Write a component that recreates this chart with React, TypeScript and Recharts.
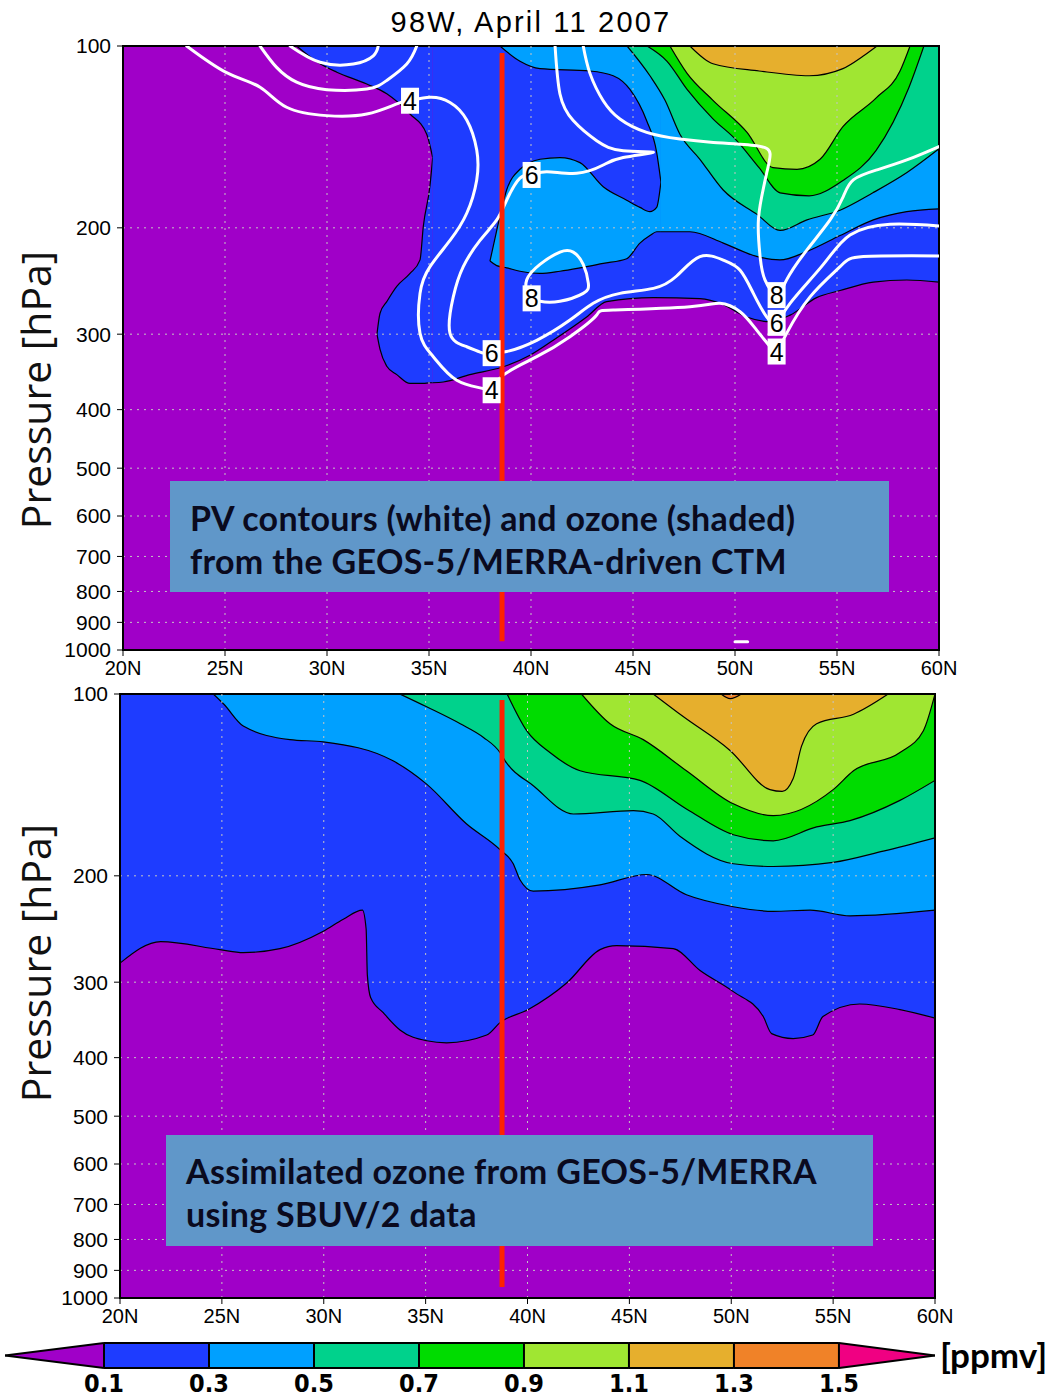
import React from 'react';
import {
  ComposedChart,
  Area,
  Line,
  Scatter,
  XAxis,
  YAxis,
  ReferenceLine,
  ReferenceArea
} from 'recharts';

// ozone shading levels (ppmv) and the palette used between them
const levels = [0.1, 0.3, 0.5, 0.7, 0.9, 1.1, 1.3, 1.5];
const palette = ['#a000c8', '#1e3cff', '#00a0ff', '#00d28c', '#00dc00', '#a0e632', '#e6af2d', '#f08228', '#f00082'];

const latTicks = [20, 25, 30, 35, 40, 45, 50, 55, 60];
const presTicks = [100, 200, 300, 400, 500, 600, 700, 800, 900, 1000];

// ---- top panel (CTM): level boundaries as [lat, hPa], shaded from 100 hPa down to the boundary
const ctmBlueCap = [[28.51, 100], [29.66, 107], [30.48, 110.5], [31.95, 115.6], [32.93, 120], [34.07, 129.6], [34.89, 140], [35.18, 153]];
// lobe west of 35N: [lat, upper hPa, lower hPa]
const ctmBlueLobe = [[32.45, 300, 300], [32.6, 277, 318], [32.93, 265, 339], [33.42, 250, 350], [34.07, 238, 362], [34.56, 226, 362], [34.72, 199, 362], [35.05, 170, 361], [35.18, 153, 361]];
const ctmBlueMain = [[35.18, 361], [35.7, 360], [37.0, 350], [38.6, 340], [39.95, 325], [41.09, 307], [42.73, 281], [43.71, 265], [46.0, 261], [48.28, 262], [49.43, 268], [50.57, 281], [51.72, 286], [52.7, 279], [54.0, 261], [55.15, 254], [56.78, 246], [58.42, 244], [60, 246]];
const ctmLightCap = [[38.48, 100], [39.46, 106], [40.44, 109], [42.89, 110], [44.03, 112], [44.85, 118], [45.67, 133], [46.16, 150], [46.37, 168]];
const ctmLightTongue = [[37.99, 227, 227], [38.32, 202, 231], [38.81, 173, 233], [39.46, 160, 236], [40.44, 154, 238], [41.42, 153, 236], [42.4, 156, 233], [43.54, 171, 229], [44.69, 180, 225], [45.34, 185, 212], [45.83, 188, 206], [46.16, 185, 203], [46.37, 168, 203]];
const ctmLightMain = [[46.37, 203], [47.79, 203], [49.43, 212], [51.06, 223], [52.2, 226], [53.51, 219], [55.15, 206], [56.78, 194], [58.42, 188], [60, 186]];
const ctmTeal = [[44.71, 100], [45.83, 112], [46.57, 123], [47.3, 140], [48.28, 154], [49.41, 173], [51.08, 190], [52.21, 202], [53.53, 194], [55.15, 187], [56.76, 175], [58.43, 162], [60, 148]];
const ctmGreen = [[45.69, 100], [46.67, 106], [47.65, 118], [48.92, 132], [50.05, 143], [51.18, 159], [52.21, 175], [53.63, 177], [55.29, 167], [56.91, 149], [58.53, 117], [59.26, 100]];
const ctmLime = [[46.81, 100], [47.65, 111], [48.92, 123], [50.59, 139], [51.86, 159], [53.04, 160], [54.17, 154], [55.29, 136], [56.91, 122], [58.09, 110], [58.58, 100]];
const ctmGold = [[47.79, 100], [48.92, 107], [51.18, 110], [53.63, 112], [55.29, 109], [56.27, 104], [56.96, 100]];

// PV contours (white), [lat, hPa] in drawing order
const pv4 = [[23.12, 100], [25.08, 110.7], [26.72, 117], [28.02, 126.3], [29.99, 130.4], [31.95, 129.6], [33.42, 124.7], [34.07, 123.2], [35.05, 121.6], [36.03, 124], [36.85, 132.6], [37.34, 148.7], [37.34, 166.6], [36.85, 189.2], [36.03, 209.8], [35.05, 231.9], [34.56, 256.8], [34.56, 299.1], [35.21, 326.9], [36.36, 357.6], [37.66, 369.1], [38.07, 371.5], [38.64, 350.7], [40.28, 326.9], [41.91, 302.9], [43.22, 278.9], [44.03, 273.6], [47.79, 270.2], [49.26, 266.7], [50.25, 275.4], [51.06, 295.4], [51.72, 314.7], [52.04, 320.5], [52.53, 299.1], [53.68, 260.2], [55.15, 231.9], [56.29, 223.2], [60, 222.6]];
const pv6 = [[41.18, 100], [41.42, 120.1], [42.07, 132.9], [43.22, 143.5], [44.52, 149.1], [46.0, 150], [44.52, 153], [43.54, 157.4], [42.24, 162.5], [40.77, 161.5], [40.03, 163.5], [39.46, 165.5], [38.81, 179.9], [38.32, 194.1], [37.5, 209.8], [36.68, 231.9], [36.19, 260.2], [36.03, 299.1], [36.85, 314.7], [37.66, 322.5], [38.07, 322.5], [38.81, 320.5], [40.28, 307.1], [41.91, 284.3], [43.05, 266.7], [44.36, 256.8], [46.0, 251.9], [47.14, 240.3], [48.28, 223.2], [49.43, 226.2], [50.25, 235.1], [50.9, 256.8], [51.55, 280.9], [52.04, 287.3], [52.7, 266.7], [54.33, 229.9], [55.64, 205.5], [57.6, 197.3], [60, 198.6]];
const pv8 = [[42.56, 100], [42.89, 111], [43.54, 123.2], [44.36, 132.1], [45.67, 139], [47.3, 142.6], [48.94, 144.4], [51.06, 146.3], [51.72, 150.9], [51.55, 162.5], [51.31, 177.5], [51.14, 196.6], [51.23, 223.2], [51.47, 243.9], [52.04, 258.5], [52.53, 243.9], [53.51, 217.9], [54.66, 194.1], [55.31, 177.5], [55.8, 166.6], [56.95, 160.4], [58.42, 154.4], [60, 146.7]];
const pv8Loop = [[39.79, 260.2], [39.79, 243.9], [40.44, 229.9], [41.42, 219.4], [42.07, 219.4], [42.56, 229.9], [42.81, 246.9], [42.56, 256.8], [41.42, 264.7], [40.44, 264.7], [39.79, 260.2]];
const pvArcA = [[26.72, 100], [27.53, 108.5], [28.51, 114.8], [29.99, 118.1], [31.95, 117.8], [32.92, 114.1], [33.91, 107.1], [34.4, 100]];
const pvArcB = [[28.19, 100], [29.66, 106.4], [31.29, 107.1], [32.27, 103.8], [32.51, 100]];
const pvSpeck = [[50.0, 969], [50.62, 969]];
const pvTags = [
  { lat: 34.07, p: 123.2, v: 4 }, { lat: 38.07, p: 371.5, v: 4 }, { lat: 40.03, p: 163.5, v: 6 },
  { lat: 38.07, p: 322.5, v: 6 }, { lat: 40.03, p: 261.7, v: 8 }, { lat: 52.04, p: 258.5, v: 8 },
  { lat: 52.04, p: 287.3, v: 6 }, { lat: 52.04, p: 320.5, v: 4 }
];

// ---- bottom panel (assimilated): [lat, hPa]
const asmBlue = [[20, 279], [22.0, 257], [24.9, 265], [26.05, 268], [27.85, 264], [29.98, 247], [30.96, 236], [31.9, 228], [32.08, 245], [32.14, 292], [32.3, 318], [32.92, 337], [33.74, 360], [35.05, 375], [36.03, 378], [38.0, 367], [38.65, 350], [40.04, 333], [41.92, 301], [43.56, 265], [44.37, 261], [47.15, 264], [48.47, 287], [50.1, 311], [51.57, 342], [51.98, 365], [53.04, 372], [54.0, 367], [54.5, 342], [56.3, 326], [58.28, 333], [60, 344]];
const asmLight = [[24.58, 100], [25.1, 104], [26.05, 113], [28.34, 119], [29.98, 120], [33.4, 129], [35.05, 141], [37.0, 164], [38.65, 181], [39.3, 191], [39.63, 203], [40.28, 212], [43.56, 207], [45.85, 199], [47.8, 215], [50.1, 225], [52.06, 229], [53.87, 228], [55.83, 233], [60, 228]];
const asmTeal = [[33.74, 100], [35.05, 105], [36.7, 112], [37.84, 118], [38.65, 125], [38.9, 129], [40.3, 142], [42.25, 158], [45.2, 156], [46.17, 158], [47.48, 172], [50.1, 191], [52.06, 193], [55.0, 190], [57.46, 182], [60, 173]];
const asmGreen = [[39.0, 100], [39.96, 115], [41.1, 125], [42.58, 134], [45.52, 139], [47.8, 155], [50.1, 171], [52.06, 175], [54.19, 166], [55.83, 162], [58.28, 150], [60, 139]];
const asmLime = [[42.65, 100], [44.05, 112], [45.68, 119], [47.8, 134], [50.1, 152], [52.06, 159], [55.0, 144], [56.0, 134], [58.28, 125], [59.43, 115], [60, 100]];
const asmGold = [[46.17, 100], [47.64, 109], [49.94, 124], [51.9, 144], [52.5, 145], [53.04, 138], [53.45, 122], [54.19, 112], [56.0, 108], [57.7, 100]];
const asmOrange = [[49.5, 100], [49.95, 101.8], [50.5, 100]];

// 98W meridian marker
const ctmMarker = [[38.58, 102.7], [38.58, 967]];
const asmMarker = [[38.75, 102.3], [38.75, 959]];

const cbMin = -0.0886;
const cbMax = 1.683;

const cap = (pts: number[][]) => pts.map(([lat, p]) => ({ lat, r: [100, p] }));
const band = (pts: number[][]) => pts.map(([lat, a, b]) => ({ lat, r: [a, b] }));
const path = (pts: number[][]) => pts.map(([lat, p]) => ({ lat, p }));
const background = [{ lat: 20, r: [100, 1000] }, { lat: 60, r: [100, 1000] }];

const axisFont = "'Liberation Sans', Arial, sans-serif";

const PvTag = (props: any) => {
  const { cx, cy, payload } = props;
  return (
    <g>
      <rect x={cx - 9} y={cy - 13} width={18} height={26} fill="#fff" />
      <text x={cx} y={cy + 9} textAnchor="middle" fontSize={25} fontFamily={axisFont} fill="#000">
        {payload.v}
      </text>
    </g>
  );
};

type Fill = { data: any[]; color: string };

const Panel = ({ fills, lines = [], tags = [], marker, margin }: {
  fills: Fill[];
  lines: number[][][];
  tags?: any[];
  marker: number[][];
  margin: { top: number; right: number; bottom: number; left: number };
}) => (
  <ComposedChart width={1053} height={700} margin={margin}>
    <XAxis
      type="number"
      dataKey="lat"
      domain={[20, 60]}
      ticks={latTicks}
      interval={0}
      allowDataOverflow
      tickFormatter={(v) => `${v}N`}
      tick={{ fontSize: 20, fill: '#000', fontFamily: axisFont }}
      tickLine={{ stroke: '#000' }}
      axisLine={{ stroke: '#000', strokeWidth: 2 }}
      tickSize={6}
      tickMargin={5}
      height={30}
    />
    <YAxis
      type="number"
      dataKey="p"
      scale="log"
      domain={[100, 1000]}
      reversed
      ticks={presTicks}
      interval={0}
      allowDataOverflow
      tick={{ fontSize: 21, fill: '#000', fontFamily: axisFont }}
      tickLine={{ stroke: '#000' }}
      axisLine={{ stroke: '#000', strokeWidth: 2 }}
      tickSize={6}
      tickMargin={6}
      width={60}
    />
    <Area data={background} dataKey="r" type="linear" fill={palette[0]} fillOpacity={1} stroke="none" isAnimationActive={false} activeDot={false} />
    {fills.map((f, i) => (
      <Area
        key={`fill-${i}`}
        data={f.data}
        dataKey="r"
        type="monotone"
        fill={f.color}
        fillOpacity={1}
        stroke="#000"
        strokeWidth={1.2}
        isAnimationActive={false}
        activeDot={false}
      />
    ))}
    {latTicks.slice(1, -1).map((v) => (
      <ReferenceLine key={`gx-${v}`} x={v} stroke="#c4c4c4" strokeDasharray="2 5" />
    ))}
    {presTicks.slice(1, -1).map((v) => (
      <ReferenceLine key={`gy-${v}`} y={v} stroke="#c4c4c4" strokeDasharray="2 5" />
    ))}
    {lines.map((pts, i) => (
      <Line
        key={`pv-${i}`}
        data={path(pts)}
        dataKey="p"
        type="natural"
        stroke="#fff"
        strokeWidth={3}
        strokeLinecap="round"
        dot={false}
        activeDot={false}
        isAnimationActive={false}
      />
    ))}
    <Line data={path(marker)} dataKey="p" type="linear" stroke="#ff2200" strokeWidth={5} dot={false} activeDot={false} isAnimationActive={false} />
    {tags.length > 0 && <Scatter data={tags} shape={PvTag} isAnimationActive={false} />}
    <ReferenceArea x1={20} x2={60} y1={100} y2={1000} fill="none" stroke="#000" strokeWidth={2} />
  </ComposedChart>
);

const cbSegments = [
  { data: [{ v: cbMin, r: [0.5, 0.5] }, { v: levels[0], r: [0, 1] }], color: palette[0] },
  ...levels.slice(0, -1).map((lv, i) => ({
    data: [{ v: lv, r: [0, 1] }, { v: levels[i + 1], r: [0, 1] }],
    color: palette[i + 1]
  })),
  { data: [{ v: levels[levels.length - 1], r: [0, 1] }, { v: cbMax, r: [0.5, 0.5] }], color: palette[8] }
];

const ColorBar = () => (
  <ComposedChart width={1053} height={70} margin={{ top: 13, right: 118, bottom: 2, left: 5 }}>
    <XAxis
      type="number"
      dataKey="v"
      domain={[cbMin, cbMax]}
      ticks={levels}
      interval={0}
      allowDataOverflow
      tickFormatter={(v) => v.toFixed(1)}
      axisLine={false}
      tickLine={false}
      tickSize={3}
      tickMargin={3}
      height={30}
      tick={{ fontSize: 25, fontWeight: 'bold', fill: '#000', fontFamily: "'Liberation Sans Narrow', 'DejaVu Sans Condensed', sans-serif" }}
    />
    <YAxis type="number" domain={[0, 1]} hide />
    {cbSegments.map((s, i) => (
      <Area
        key={`cb-${i}`}
        data={s.data}
        dataKey="r"
        type="linear"
        fill={s.color}
        fillOpacity={1}
        stroke="#000"
        strokeWidth={2}
        isAnimationActive={false}
        activeDot={false}
      />
    ))}
    {levels.map((lv) => (
      <ReferenceLine key={`cbl-${lv}`} x={lv} stroke="#000" strokeWidth={2} />
    ))}
  </ComposedChart>
);

const boxText: React.CSSProperties = {
  position: 'absolute',
  background: '#6097c9',
  color: '#0a0a1e',
  fontFamily: "Lato, 'Open Sans', sans-serif",
  fontWeight: 'bold',
  fontSize: 34,
  letterSpacing: 0.3,
  lineHeight: '43px',
  boxSizing: 'border-box',
  paddingLeft: 20,
  whiteSpace: 'nowrap'
};

const yTitle = (cy: number): React.CSSProperties => ({
  position: 'absolute',
  left: 35 - 160,
  top: cy - 25,
  width: 320,
  height: 50,
  lineHeight: '50px',
  textAlign: 'center',
  transform: 'rotate(-90deg)',
  fontFamily: "'Open Sans', sans-serif",
  fontSize: 41,
  color: '#111'
});

export default function App() {
  const top: Fill[] = [
    { data: cap(ctmBlueCap), color: palette[1] },
    { data: band(ctmBlueLobe), color: palette[1] },
    { data: cap(ctmBlueMain), color: palette[1] },
    { data: cap(ctmLightCap), color: palette[2] },
    { data: band(ctmLightTongue), color: palette[2] },
    { data: cap(ctmLightMain), color: palette[2] },
    { data: cap(ctmTeal), color: palette[3] },
    { data: cap(ctmGreen), color: palette[4] },
    { data: cap(ctmLime), color: palette[5] },
    { data: cap(ctmGold), color: palette[6] }
  ];
  const bottom: Fill[] = [
    { data: cap(asmBlue), color: palette[1] },
    { data: cap(asmLight), color: palette[2] },
    { data: cap(asmTeal), color: palette[3] },
    { data: cap(asmGreen), color: palette[4] },
    { data: cap(asmLime), color: palette[5] },
    { data: cap(asmGold), color: palette[6] },
    { data: cap(asmOrange), color: palette[7] }
  ];

  return (
    <div style={{ position: 'absolute', left: 0, top: 0, width: 1053, height: 1397, background: '#fff', overflow: 'hidden' }}>
      <div style={{ position: 'absolute', left: 0, top: 0 }}>
        <Panel
          fills={top}
          lines={[pv4, pv6, pv8, pv8Loop, pvArcA, pvArcB, pvSpeck]}
          tags={pvTags}
          marker={ctmMarker}
          margin={{ top: 46, right: 114, bottom: 20, left: 63 }}
        />
      </div>
      <div style={{ position: 'absolute', left: 0, top: 660 }}>
        <Panel
          fills={bottom}
          lines={[]}
          marker={asmMarker}
          margin={{ top: 34, right: 118, bottom: 32, left: 60 }}
        />
      </div>
      <div style={{ position: 'absolute', left: 0, top: 1330 }}>
        <ColorBar />
      </div>

      <div style={{ position: 'absolute', left: 281, top: 4, width: 500, textAlign: 'center', fontFamily: axisFont, fontSize: 29, letterSpacing: 2.2, lineHeight: '36px', color: '#000' }}>
        98W, April 11 2007
      </div>
      <div style={yTitle(390)}>Pressure [hPa]</div>
      <div style={yTitle(963)}>Pressure [hPa]</div>

      <div style={{ ...boxText, left: 170, top: 481, width: 719, height: 111, paddingTop: 15 }}>
        PV contours (white) and ozone (shaded)
        <br />
        from the GEOS-5/MERRA-driven CTM
      </div>
      <div style={{ ...boxText, left: 166, top: 1135, width: 707, height: 111, paddingTop: 14 }}>
        Assimilated ozone from GEOS-5/MERRA
        <br />
        using SBUV/2 data
      </div>

      <div style={{ position: 'absolute', left: 940, top: 1334, fontFamily: "Lato, 'Open Sans', sans-serif", fontWeight: 'bold', fontSize: 35, lineHeight: '40px', color: '#000' }}>
        [ppmv]
      </div>
    </div>
  );
}
